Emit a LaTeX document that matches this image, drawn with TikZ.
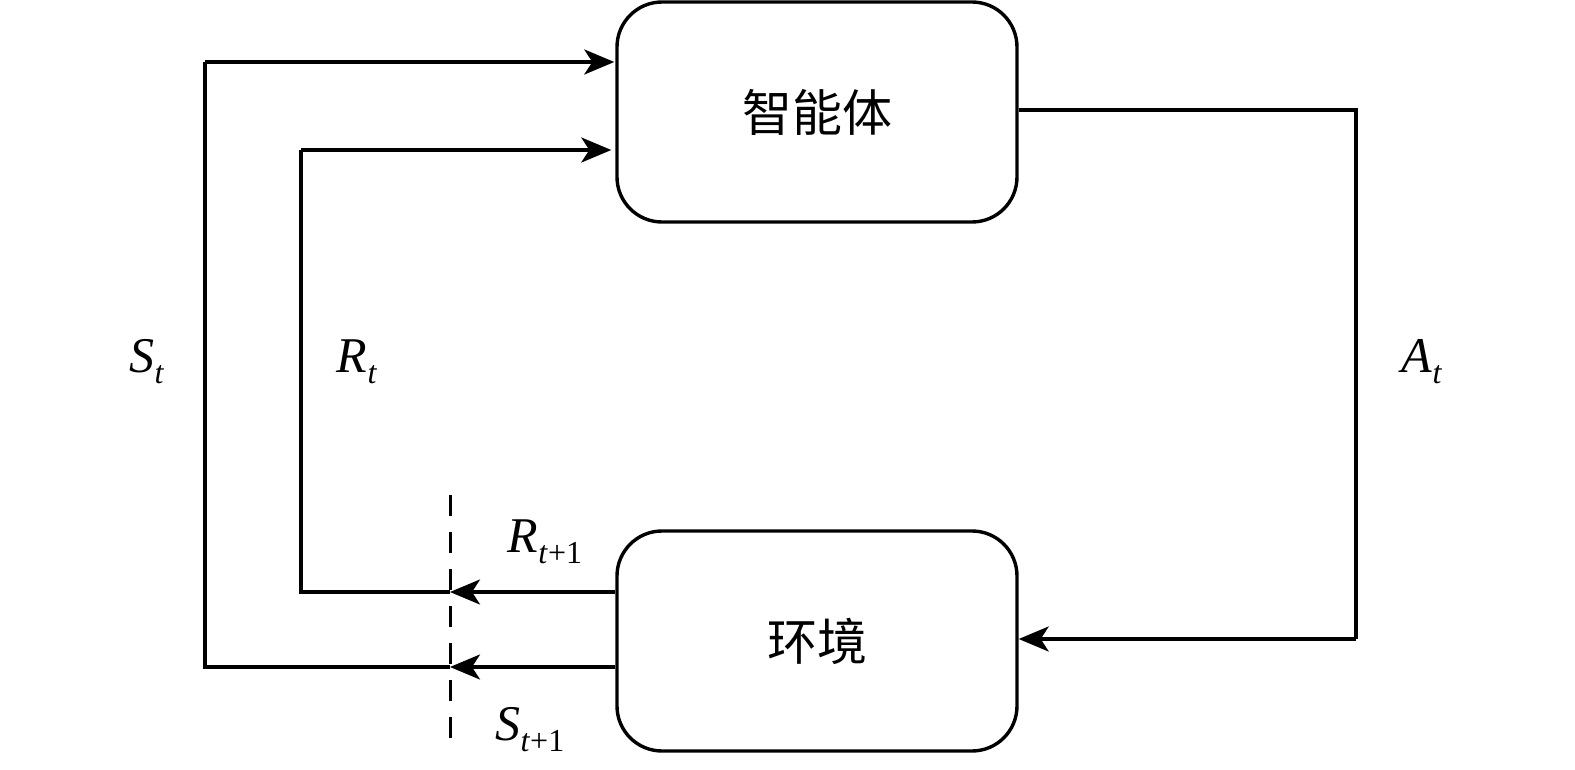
\documentclass[tikz,border=0pt]{standalone}
\usepackage{fontspec}
\setmainfont{Liberation Serif}
\newfontfamily\cjk{Noto Sans CJK SC}
\usetikzlibrary{arrows.meta}
\newcommand{\lbl}[2]{\textit{#1}\raisebox{-0.22em}{\fontsize{32}{32}\selectfont #2}}
\begin{document}
\begin{tikzpicture}[x=1pt,y=-1pt,
  box/.style={draw, line width=3.4pt, rounded corners=45pt, minimum width=400pt, minimum height=220pt, inner sep=0pt, font=\cjk\fontsize{50}{50}\selectfont},
  ln/.style={line width=3.4pt, line cap=butt, line join=miter},
  arr/.style={ln, -{Stealth[length=30pt,width=25pt,inset=8pt]}},
  lab/.style={font=\fontsize{50}{50}\selectfont, inner sep=0pt}]
\useasboundingbox (0,0) rectangle (1575,770);
\node[box] (agent) at (817,112) {智能体};
\node[box] (env) at (817,641) {环境};
\coordinate (dtop) at (450,495);
\coordinate (dbot) at (450,747);
\coordinate (dR) at (450,592);
\coordinate (dS) at (450,667);
\coordinate (sB) at (205,667);
\coordinate (sA) at (205,62);
\coordinate (rB) at (301,592);
\coordinate (rA) at (301,150);
\coordinate (aA) at (1356,110);
\coordinate (aB) at (1356,639);
\draw[line width=3pt, dash pattern=on 21pt off 16pt] (dtop) -- (dbot);
\draw[arr] (env.west |- dR) -- (dR);
\draw[arr] (env.west |- dS) -- (dS);
\draw[ln] (dR) -- (rB) -- (rA);
\draw[arr, shorten >=4pt] (rA) -- (agent.west |- rA);
\draw[ln] (dS) -- (sB) -- (sA);
\draw[arr, shorten >=1pt] (sA) -- (agent.west |- sA);
\draw[ln] (agent.east |- aA) -- (aA) -- (aB);
\draw[arr] (aB) -- (env.east |- aB);
\node[lab] (St) at (147,362) {\lbl{S}{\textit{t}}};
\node[lab] (Rt) at (357,362) {\lbl{R}{\textit{t}}};
\node[lab] (At) at (1422,362) {\lbl{A}{\textit{t}}};
\node[lab] (Rt1) at (545,542) {\lbl{R}{\textit{t}+1}};
\node[lab] (St1) at (530,730) {\lbl{S}{\textit{t}+1}};
\end{tikzpicture}
\end{document}
